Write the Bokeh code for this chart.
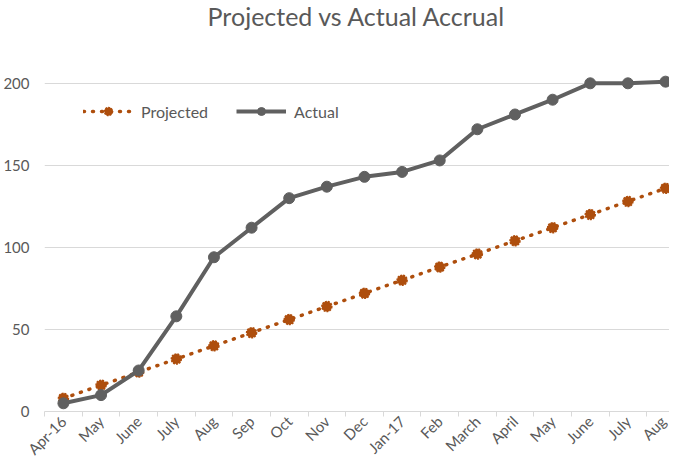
from bokeh.plotting import figure
from bokeh.models import FixedTicker, Legend, LegendItem, Range1d
from bokeh.embed import file_html
from bokeh.resources import INLINE
from math import pi

categories = ["Apr-16", "May", "June", "July", "Aug", "Sep", "Oct", "Nov", "Dec",
              "Jan-17", "Feb", "March", "April", "May", "June", "July", "Aug"]
projected = [8, 16, 24, 32, 40, 48, 56, 64, 72, 80, 88, 96, 104, 112, 120, 128, 136]
actual = [5, 10, 25, 58, 94, 112, 130, 137, 143, 146, 153, 172, 181, 190, 200, 200, 201]
y_ticks = [0, 50, 100, 150, 200]

xs = list(range(len(categories)))

FONT = "Lato"
TXT = "#595959"
ORANGE = "#AE4E0D"
GRAY = "#606060"
GRID = "#D9D9D9"

p = figure(width=669, height=467, output_backend="svg", toolbar_location=None,
           x_range=Range1d(-0.503, 16.106), y_range=Range1d(0, 233.4),
           min_border_left=41, min_border_right=0, min_border_top=0, min_border_bottom=0)
p.outline_line_color = None

p.title.text = "Projected vs Actual Accrual"
p.title.align = "center"
p.title.offset = 12
p.title.standoff = -4
p.title.text_font = FONT
p.title.text_font_size = "25px"
p.title.text_font_style = "normal"
p.title.text_color = TXT

# x axis: labels at category centres, tick marks between categories
p.xaxis.ticker = FixedTicker(ticks=xs, minor_ticks=[i - 0.5 for i in range(len(categories) + 1)])
p.xaxis.major_label_overrides = {i: c for i, c in enumerate(categories)}
p.xaxis.major_label_orientation = pi / 4
p.xaxis.major_tick_line_color = None
p.xaxis.major_tick_out = 0
p.xaxis.major_tick_in = 0
p.xaxis.minor_tick_line_color = GRID
p.xaxis.minor_tick_out = 5
p.xaxis.minor_tick_in = 0
p.xaxis.axis_line_color = GRID
p.xaxis.axis_line_width = 1
p.xaxis.axis_label_standoff = 0
p.xaxis.axis_label_text_font_size = "0px"
p.xaxis.major_label_text_font = FONT
p.xaxis.major_label_text_font_size = "15px"
p.xaxis.major_label_text_color = TXT
p.xaxis.major_label_standoff = 2
p.xgrid.grid_line_color = None

# y axis
p.yaxis.ticker = FixedTicker(ticks=y_ticks)
p.yaxis.axis_line_color = None
p.yaxis.major_tick_line_color = None
p.yaxis.major_tick_out = 0
p.yaxis.minor_tick_line_color = None
p.yaxis.major_label_text_font = FONT
p.yaxis.major_label_text_font_size = "15px"
p.yaxis.major_label_text_color = TXT
p.yaxis.major_label_standoff = 15
p.ygrid.grid_line_color = GRID
p.ygrid.grid_line_width = 1

# series
pl = p.line(xs, projected, line_color=ORANGE, line_width=3.5, line_dash="1 8", line_cap="round")
pm = p.scatter(xs, projected, size=10, fill_color=ORANGE, line_color=ORANGE,
               line_width=1.5, line_dash="2 1")
al = p.line(xs, actual, line_color=GRAY, line_width=4)
am = p.scatter(xs, actual, size=11, fill_color=GRAY, line_color=GRAY)

legend = Legend(items=[LegendItem(label="Projected", renderers=[pl, pm]),
                       LegendItem(label="Actual", renderers=[al, am])],
                orientation="horizontal", location=(39, 290),
                border_line_color=None, background_fill_alpha=0,
                label_text_font=FONT, label_text_font_size="16px", label_text_color=TXT,
                glyph_width=50, glyph_height=20, label_standoff=8, spacing=28,
                padding=0, margin=0)
p.add_layout(legend)

open("out.html", "w").write(file_html(p, INLINE))
